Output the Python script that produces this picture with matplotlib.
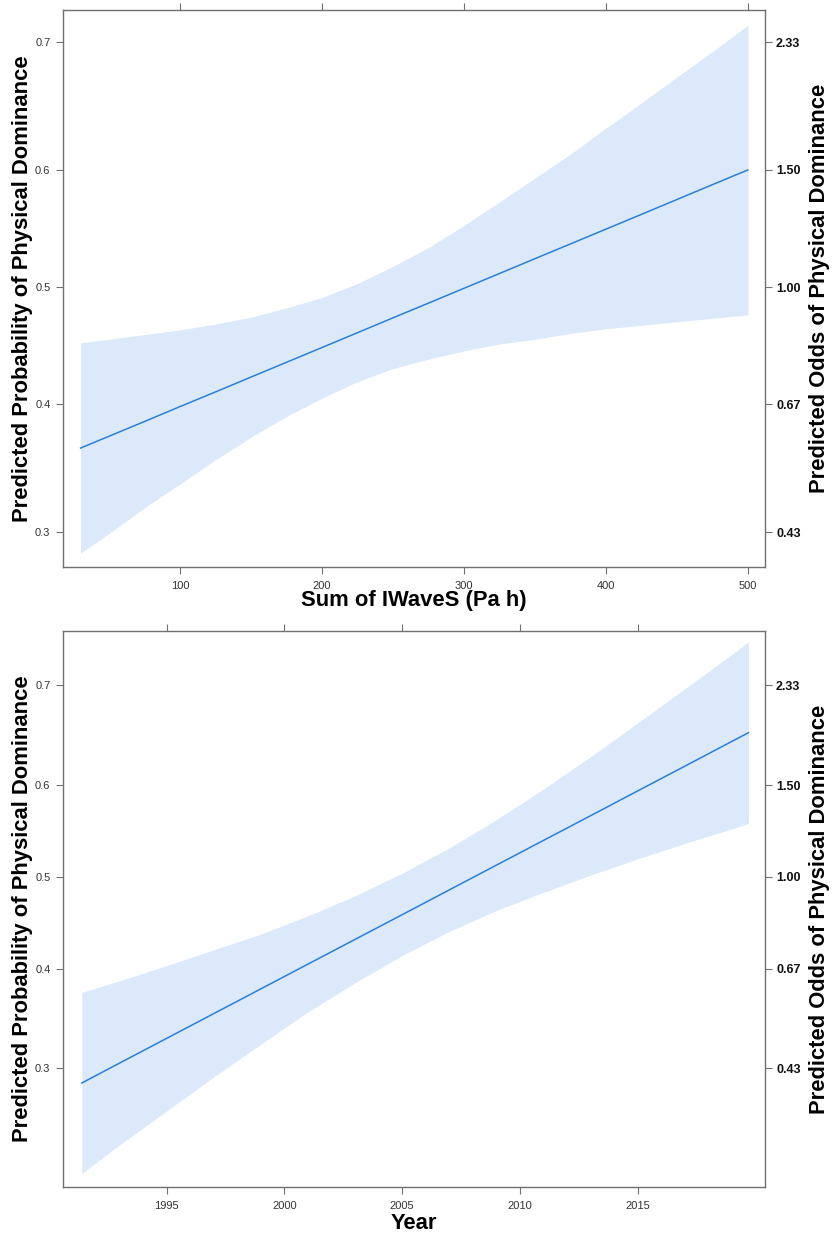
import matplotlib
matplotlib.use("Agg")
import matplotlib.pyplot as plt

plt.rcParams['font.family'] = ['Liberation Sans', 'DejaVu Sans']

# effect of summed internal wave stress
iwaves = [30, 50, 75, 100, 125, 150, 175, 200, 225, 250,
          275, 300, 325, 350, 375, 400, 425, 450, 475, 500]
iwaves_fit = [0.3643, 0.3738, 0.3858, 0.3981, 0.4103, 0.4228, 0.4353, 0.4479, 0.4606, 0.4734,
              0.4861, 0.4989, 0.5117, 0.5245, 0.5372, 0.5499, 0.5625, 0.5751, 0.5876, 0.5999]
iwaves_lower = [0.285, 0.299, 0.318, 0.336, 0.355, 0.373, 0.390, 0.405, 0.419, 0.430,
                0.438, 0.445, 0.451, 0.455, 0.460, 0.464, 0.467, 0.470, 0.473, 0.476]
iwaves_upper = [0.452, 0.455, 0.459, 0.463, 0.468, 0.474, 0.482, 0.491, 0.503, 0.518,
                0.534, 0.553, 0.573, 0.593, 0.613, 0.634, 0.654, 0.674, 0.693, 0.712]
iwaves_ticks = [100, 200, 300, 400, 500]

# effect of year
years = [1991.4, 1993, 1995, 1997, 1999, 2001, 2003, 2005,
         2007, 2009, 2011, 2013, 2015, 2017, 2019, 2019.7]
year_fit = [0.2866, 0.3049, 0.3286, 0.3532, 0.3786, 0.4047, 0.4313, 0.4583,
            0.4856, 0.5130, 0.5403, 0.5673, 0.5940, 0.6201, 0.6456, 0.6543]
year_lower = [0.212, 0.234, 0.262, 0.292, 0.323, 0.355, 0.385, 0.414,
              0.440, 0.463, 0.483, 0.502, 0.520, 0.537, 0.553, 0.559]
year_upper = [0.375, 0.387, 0.403, 0.420, 0.437, 0.457, 0.479, 0.504,
              0.532, 0.563, 0.596, 0.630, 0.664, 0.697, 0.728, 0.739]
year_ticks = [1995, 2000, 2005, 2010, 2015]

prob_ticks = [0.3, 0.4, 0.5, 0.6, 0.7]
odds_labels = ['0.43', '0.67', '1.00', '1.50', '2.33']

LINE = '#2a7fd8'
BAND = '#dbe9fa'
FRAME = '#707070'
TITLE = dict(fontsize=15.8, fontweight='bold', ha='center', va='center')


def draw_panel(ax, x, fit, lo, hi, xticks, xlim, ylim):
    ax.set_yscale('logit')
    ax.fill_between(x, lo, hi, color=BAND, lw=0)
    ax.plot(x, fit, color=LINE, lw=1.1)
    ax.set_xlim(*xlim)
    ax.set_ylim(*ylim)

    ax.set_xticks(xticks)
    ax.set_xticklabels([str(t) for t in xticks])
    ax.set_yticks(prob_ticks)
    ax.set_yticklabels([str(t) for t in prob_ticks])
    ax.yaxis.set_minor_locator(plt.NullLocator())
    ax.yaxis.set_minor_formatter(plt.NullFormatter())
    ax.tick_params(axis='both', direction='out', length=5, width=0.8,
                   color=FRAME, labelsize=8, labelcolor='#333333')
    ax.tick_params(axis='x', top=True, labeltop=False, pad=5)
    ax.tick_params(axis='y', pad=4)
    for s in ax.spines.values():
        s.set_color(FRAME)
        s.set_linewidth(1.0)

    # odds scale on the right, same positions as the probabilities
    ax2 = ax.twinx()
    ax2.set_yscale('logit')
    ax2.set_ylim(*ylim)
    ax2.set_yticks(prob_ticks)
    ax2.set_yticklabels(odds_labels)
    ax2.yaxis.set_minor_locator(plt.NullLocator())
    ax2.yaxis.set_minor_formatter(plt.NullFormatter())
    ax2.tick_params(axis='y', direction='out', length=5, width=0.8,
                    color=FRAME, labelsize=9, labelcolor='#111111', pad=3)
    for lab in ax2.get_yticklabels():
        lab.set_fontweight('bold')
    for s in ax2.spines.values():
        s.set_visible(False)


fig = plt.figure(figsize=(8.35, 12.39), dpi=100)
ax_top = fig.add_axes([0.0754, 0.5424, 0.8407, 0.4495])
ax_bot = fig.add_axes([0.0754, 0.0420, 0.8407, 0.4487])

draw_panel(ax_top, iwaves, iwaves_fit, iwaves_lower, iwaves_upper, iwaves_ticks,
           (17.6, 512), (0.2753, 0.7227))
draw_panel(ax_bot, years, year_fit, year_lower, year_upper, year_ticks,
           (1990.6, 2020.4), (0.2023, 0.748))

# axis titles
for yc in (0.7672, 0.2664):
    fig.text(0.0275, yc, 'Predicted Probability of Physical Dominance', rotation=90, **TITLE)
    fig.text(0.9815, yc, 'Predicted Odds of Physical Dominance', rotation=90, **TITLE)
fig.text(0.4958, 0.515, 'Sum of IWaveS (Pa h)', **TITLE)
fig.text(0.4958, 0.0125, 'Year', **TITLE)

fig.savefig('out.png', dpi=100)
